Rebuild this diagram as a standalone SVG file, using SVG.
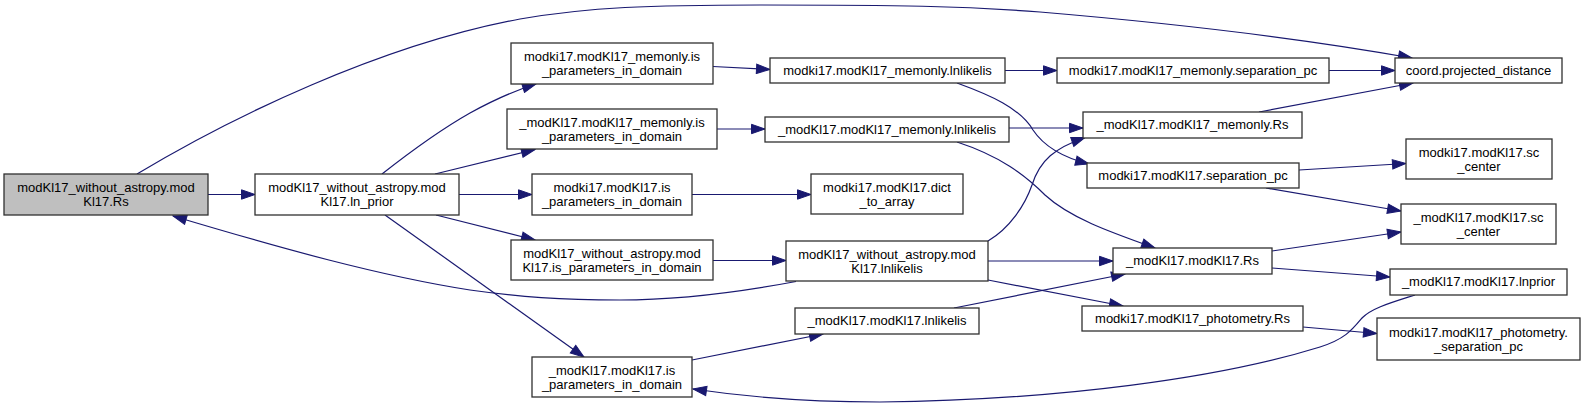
<svg xmlns="http://www.w3.org/2000/svg" width="1585" height="407" viewBox="0 0 1585 407">
<style>
.n rect{fill:#ffffff;stroke:#303030;stroke-width:1.3}
.n.cur rect{fill:#bfbfbf}
.n text{font-family:"Liberation Sans",Arial,sans-serif;font-size:13px;fill:#000;text-anchor:middle}
.e path{fill:none;stroke:#191970;stroke-width:1.2;marker-end:url(#ah)}
</style>
<defs>
<marker id="ah" viewBox="-1 -1 15.5 11.4" refX="13.5" refY="4.7" markerWidth="15.5" markerHeight="11.4" markerUnits="userSpaceOnUse" orient="auto">
<path d="M0,0 L13.5,4.7 L0,9.4 z" fill="#191970" stroke="#191970" stroke-width="1"/>
</marker>
</defs>
<rect width="1585" height="407" fill="#ffffff"/>
<g id="edges" class="e">
<path d="M137,174 C230,118 380,45 520,19 C590,7 650,5 760,5 C900,5 960,6 1040,12 C1170,23 1300,38 1412,58"/>
<path d="M208,194.5 L255,194.5"/>
<path d="M382,174 C410,152 440,130 470,113 C490,102 510,92 536,84"/>
<path d="M435,174 L535,149.5"/>
<path d="M459,194.5 L532,194.5"/>
<path d="M436,215 L535,240"/>
<path d="M385,215 L584,357"/>
<path d="M713,66.5 L770,69.5"/>
<path d="M1005,70.5 L1057,70.5"/>
<path d="M957,83 C990,95 1020,108 1033,130 C1045,148 1065,158 1089,164"/>
<path d="M717,129 L765,129"/>
<path d="M1009,128 L1083,128"/>
<path d="M957,142 C1000,156 1025,175 1045,195 C1070,218 1110,232 1155,248"/>
<path d="M692,194.5 L811,194.5"/>
<path d="M713,260.5 L786,260.5"/>
<path d="M796,281.5 C740,292 680,300 620,300 C560,300 520,297 470,290 C380,276 280,248 173,216"/>
<path d="M988,241 C1010,228 1025,205 1032,185 C1040,160 1055,148 1085,137.5"/>
<path d="M988,261 L1113,261"/>
<path d="M988,280 L1123,306"/>
<path d="M954,308 L1125,274"/>
<path d="M692,360 L823,334"/>
<path d="M1329,70.5 L1395,70.5"/>
<path d="M1259,112 L1413,83"/>
<path d="M1299,170 L1406,163.5"/>
<path d="M1266,188 L1401,211"/>
<path d="M1272,251 L1401,232"/>
<path d="M1272,268 L1390,277"/>
<path d="M1415,295 C1390,303 1372,308 1362,318 C1352,330 1345,339 1320,347 C1220,378 1060,400 880,402 C800,402 740,396 693,389"/>
<path d="M1303,327 L1377,333.5"/>
</g>
<g id="node_A" class="n cur"><rect x="4" y="174" width="204" height="41"/><text x="106" y="192">modKl17_without_astropy.mod</text><text x="106" y="206">Kl17.Rs</text></g>
<g id="node_B" class="n"><rect x="255" y="174" width="204" height="41"/><text x="357" y="192">modKl17_without_astropy.mod</text><text x="357" y="206">Kl17.ln_prior</text></g>
<g id="node_C" class="n"><rect x="511" y="43" width="202" height="41"/><text x="612" y="61">modki17.modKl17_memonly.is</text><text x="612" y="75">_parameters_in_domain</text></g>
<g id="node_D" class="n"><rect x="770" y="58" width="235" height="25"/><text x="887.5" y="75">modki17.modKl17_memonly.lnlikelis</text></g>
<g id="node_E" class="n"><rect x="507" y="109" width="210" height="40"/><text x="612" y="126.5">_modKl17.modKl17_memonly.is</text><text x="612" y="140.5">_parameters_in_domain</text></g>
<g id="node_F" class="n"><rect x="765" y="117" width="244" height="25"/><text x="887" y="134">_modKl17.modKl17_memonly.lnlikelis</text></g>
<g id="node_G" class="n"><rect x="532" y="174" width="160" height="41"/><text x="612" y="192">modki17.modKl17.is</text><text x="612" y="206">_parameters_in_domain</text></g>
<g id="node_H" class="n"><rect x="811" y="174" width="152" height="40"/><text x="887" y="191.5">modki17.modKl17.dict</text><text x="887" y="205.5">_to_array</text></g>
<g id="node_I" class="n"><rect x="511" y="240" width="202" height="40"/><text x="612" y="257.5">modKl17_without_astropy.mod</text><text x="612" y="271.5">Kl17.is_parameters_in_domain</text></g>
<g id="node_J" class="n"><rect x="786" y="241" width="202" height="40"/><text x="887" y="258.5">modKl17_without_astropy.mod</text><text x="887" y="272.5">Kl17.lnlikelis</text></g>
<g id="node_K" class="n"><rect x="795" y="308" width="184" height="26"/><text x="887" y="325">_modKl17.modKl17.lnlikelis</text></g>
<g id="node_L" class="n"><rect x="532" y="357" width="160" height="40"/><text x="612" y="374.5">_modKl17.modKl17.is</text><text x="612" y="388.5">_parameters_in_domain</text></g>
<g id="node_M" class="n"><rect x="1057" y="58" width="272" height="25"/><text x="1193" y="75">modki17.modKl17_memonly.separation_pc</text></g>
<g id="node_N" class="n"><rect x="1395" y="58" width="167" height="25"/><text x="1478.5" y="75">coord.projected_distance</text></g>
<g id="node_O" class="n"><rect x="1083" y="112" width="219" height="26"/><text x="1192.5" y="129">_modKl17.modKl17_memonly.Rs</text></g>
<g id="node_P" class="n"><rect x="1087" y="163" width="212" height="25"/><text x="1193" y="180">modki17.modKl17.separation_pc</text></g>
<g id="node_Q" class="n"><rect x="1406" y="139" width="146" height="40"/><text x="1479" y="156.5">modki17.modKl17.sc</text><text x="1479" y="170.5">_center</text></g>
<g id="node_R" class="n"><rect x="1401" y="204" width="155" height="40"/><text x="1478.5" y="221.5">_modKl17.modKl17.sc</text><text x="1478.5" y="235.5">_center</text></g>
<g id="node_S" class="n"><rect x="1113" y="248" width="159" height="26"/><text x="1192.5" y="265">_modKl17.modKl17.Rs</text></g>
<g id="node_T" class="n"><rect x="1390" y="269" width="177" height="26"/><text x="1478.5" y="286">_modKl17.modKl17.lnprior</text></g>
<g id="node_U" class="n"><rect x="1082" y="306" width="221" height="25"/><text x="1192.5" y="323">modki17.modKl17_photometry.Rs</text></g>
<g id="node_V" class="n"><rect x="1377" y="318" width="203" height="42"/><text x="1478.5" y="336.5">modki17.modKl17_photometry.</text><text x="1478.5" y="350.5">_separation_pc</text></g>
</svg>
